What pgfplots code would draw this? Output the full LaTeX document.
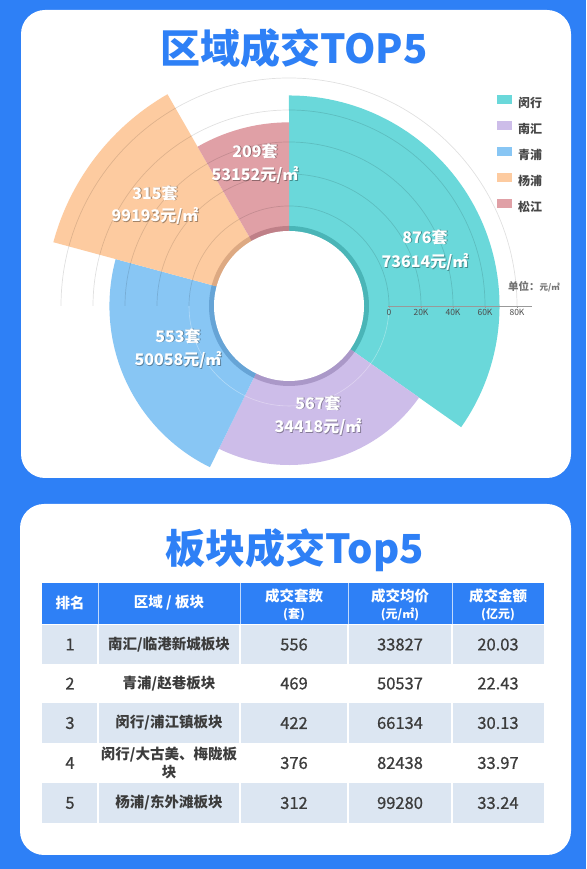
\documentclass[border=0pt]{standalone}
\usepackage{fontspec}
\setmainfont{Noto Sans CJK SC}
\newfontfamily\medfont{Noto Sans CJK SC}[FakeBold=0.7]
\usepackage{pgfplots}
\pgfplotsset{compat=1.18}
\definecolor{bgblue}{HTML}{2E80F6}
\definecolor{cMin}{HTML}{6AD8DA}
\definecolor{cNan}{HTML}{CDBDE9}
\definecolor{cQing}{HTML}{88C6F4}
\definecolor{cYang}{HTML}{FDCBA0}
\definecolor{cSong}{HTML}{E0A0A6}
\definecolor{dMin}{HTML}{4AB5B7}
\definecolor{dNan}{HTML}{AA98C8}
\definecolor{dQing}{HTML}{66A4D6}
\definecolor{dYang}{HTML}{DDA982}
\definecolor{dSong}{HTML}{BF8088}
\definecolor{rowc}{HTML}{DCE6F2}
\definecolor{txt}{HTML}{3C3C3C}
\newcommand\lab[3]{\node[text=black,opacity=0.35,font=\bfseries\fontsize{16}{16}\selectfont] at (#1+0.9,#2-0.9) {#3};
\node[text=white,font=\bfseries\fontsize{16}{16}\selectfont] at (#1,#2) {#3};}
\begin{document}
\begin{tikzpicture}[x=1pt,y=1pt]
\fill[bgblue] (0,0) rectangle (586,869);
\fill[white, rounded corners=24pt] (21,391) rectangle (571,859);
\fill[white, rounded corners=24pt] (20,14) rectangle (571,365);
\node[text=bgblue, font=\bfseries\fontsize{40}{40}\selectfont] at (294,821) {区域成交TOP5};
\node[text=bgblue, font=\bfseries\fontsize{40}{40}\selectfont] at (295,319) {板块成交Top5};
\begin{axis}[
  at={(0,0)}, anchor=south west,
  x=1pt, y=1pt,
  xmin=-289, xmax=297, ymin=-563, ymax=306,
  hide axis, clip=false,
  legend style={at={(0.848,0.891)}, anchor=north west, draw=none, fill=none, inner sep=0pt,
    font=\bfseries\fontsize{12}{12}\selectfont, text=black!72, row sep=11pt,
    nodes={inner sep=0pt, text height=10pt, text depth=2pt},
    /tikz/every odd column/.append style={column sep=6pt}},
  legend cell align=left,
  legend image code/.code={\fill[#1] (0pt,0pt) rectangle (15pt,9pt);},
]
% sectors: angle share = units / 2520 of 360 deg (876, 567, 553, 315, 209 units),
% radius from average price (73614, 34418, 50058, 99193, 53152 yuan/m2)
\addplot[fill=cMin, draw=none, domain=-35.142857:90, samples=70, variable=\t]
  ({(113.8+1.314*73.614)*cos(\t)},{(113.8+1.314*73.614)*sin(\t)}) -- (0,0) -- cycle;
\addlegendentry{闵行}
\addplot[fill=cNan, draw=none, domain=-116.142857:-35.142857, samples=50, variable=\t]
  ({(113.8+1.314*34.418)*cos(\t)},{(113.8+1.314*34.418)*sin(\t)}) -- (0,0) -- cycle;
\addlegendentry{南汇}
\addplot[fill=cQing, draw=none, domain=-195.142857:-116.142857, samples=50, variable=\t]
  ({(113.8+1.314*50.058)*cos(\t)},{(113.8+1.314*50.058)*sin(\t)}) -- (0,0) -- cycle;
\addlegendentry{青浦}
\addplot[fill=cYang, draw=none, domain=-240.142857:-195.142857, samples=40, variable=\t]
  ({(113.8+1.314*99.193)*cos(\t)},{(113.8+1.314*99.193)*sin(\t)}) -- (0,0) -- cycle;
\addlegendentry{杨浦}
\addplot[fill=cSong, draw=none, domain=-270:-240.142857, samples=30, variable=\t]
  ({(113.8+1.314*53.152)*cos(\t)},{(113.8+1.314*53.152)*sin(\t)}) -- (0,0) -- cycle;
\addlegendentry{松江}
% inner shaded ring
\addplot[forget plot, fill=dMin, draw=none, domain=-35.142857:90, samples=50, variable=\t] ({80*cos(\t)},{80*sin(\t)}) -- (0,0) -- cycle;
\addplot[forget plot, fill=dNan, draw=none, domain=-116.142857:-35.142857, samples=40, variable=\t] ({80*cos(\t)},{80*sin(\t)}) -- (0,0) -- cycle;
\addplot[forget plot, fill=dQing, draw=none, domain=-195.142857:-116.142857, samples=40, variable=\t] ({80*cos(\t)},{80*sin(\t)}) -- (0,0) -- cycle;
\addplot[forget plot, fill=dYang, draw=none, domain=-240.142857:-195.142857, samples=30, variable=\t] ({80*cos(\t)},{80*sin(\t)}) -- (0,0) -- cycle;
\addplot[forget plot, fill=dSong, draw=none, domain=-270:-240.142857, samples=30, variable=\t] ({80*cos(\t)},{80*sin(\t)}) -- (0,0) -- cycle;
\fill[white] (0,0) circle[radius=75pt];
% grid
\pgfplotsinvokeforeach{100,132,164,196,228}{
  \draw[black, opacity=0.12, line width=0.7pt] (#1,0) arc[start angle=0, end angle=180, radius=#1pt];
  \draw[black!40, line width=0.6pt] (#1,0) -- (#1,-2.5);
}
\draw[white, opacity=0.35, line width=0.6pt] (-100,0) arc[start angle=180, end angle=360, radius=100pt];
% radial axis
\draw[black!40, line width=0.6pt] (99,0) -- (243,0);
\node[text=black!70, font=\fontsize{8.5}{8.5}\selectfont, anchor=north, inner sep=0pt] at (100,-3.5) {0};
\node[text=black!70, font=\fontsize{8.5}{8.5}\selectfont, anchor=north, inner sep=0pt] at (132,-3.5) {20K};
\node[text=black!70, font=\fontsize{8.5}{8.5}\selectfont, anchor=north, inner sep=0pt] at (164,-3.5) {40K};
\node[text=black!70, font=\fontsize{8.5}{8.5}\selectfont, anchor=north, inner sep=0pt] at (196,-3.5) {60K};
\node[text=black!70, font=\fontsize{8.5}{8.5}\selectfont, anchor=north, inner sep=0pt] at (228,-3.5) {80K};
\node[anchor=west, inner sep=0pt, text=black!55] at (219,19) {\bfseries\fontsize{10.5}{10.5}\selectfont 单位：\fontsize{8.5}{8.5}\selectfont 元/㎡};
\end{axis}
% sector labels
\lab{425}{632}{876套}
\lab{425}{607}{73614元/㎡}
\lab{255}{718}{209套}
\lab{255}{694}{53152元/㎡}
\lab{155}{676}{315套}
\lab{155}{653}{99193元/㎡}
\lab{178}{533}{553套}
\lab{178}{509}{50058元/㎡}
\lab{318}{466}{567套}
\lab{318}{442}{34418元/㎡}
% table
\fill[bgblue] (42,244) rectangle (544,286);
\fill[rowc] (42,205) rectangle (544,244);
\fill[rowc] (42,126) rectangle (544,166);
\fill[rowc] (42,46) rectangle (544,86);
\foreach \xx in {98,240,348,452}{
  \draw[white, line width=1.5pt] (\xx,46) -- (\xx,244);
  \draw[white, opacity=0.7, line width=0.8pt] (\xx,244) -- (\xx,286);
}
\draw[white, line width=1pt] (42,244) -- (544,244);
\begin{scope}[every node/.style={text=white, inner sep=0pt}]
\node[font=\bfseries\fontsize{14.5}{14.5}\selectfont] at (70,266) {排名};
\node[font=\bfseries\fontsize{14.5}{14.5}\selectfont] at (169,266) {区域 / 板块};
\node[font=\bfseries\fontsize{14.5}{14.5}\selectfont] at (294,273) {成交套数};
\node[font=\bfseries\fontsize{12}{12}\selectfont] at (294,254.5) {(套)};
\node[font=\bfseries\fontsize{14.5}{14.5}\selectfont] at (400,273) {成交均价};
\node[font=\bfseries\fontsize{12}{12}\selectfont] at (400,254.5) {(元/㎡)};
\node[font=\bfseries\fontsize{14.5}{14.5}\selectfont] at (498,273) {成交金额};
\node[font=\bfseries\fontsize{12}{12}\selectfont] at (498,254.5) {(亿元)};
\end{scope}
\begin{scope}[every node/.style={text=txt, inner sep=0pt, font=\medfont\fontsize{16.5}{16.5}\selectfont}]
\foreach \yy/\a/\b/\c/\d in {224.5/1/556/33827/20.03, 185.5/2/469/50537/22.43, 146/3/422/66134/30.13, 106/4/376/82438/33.97, 66/5/312/99280/33.24}{
  \node at (70,\yy) {\a};
  \node at (294,\yy) {\b};
  \node at (400,\yy) {\c};
  \node at (498,\yy) {\d};
}
\end{scope}
\begin{scope}[every node/.style={text=txt, inner sep=0pt, font=\bfseries\fontsize{14.5}{14.5}\selectfont}]
\node at (169,224.5) {南汇/临港新城板块};
\node at (169,185.5) {青浦/赵巷板块};
\node at (169,146) {闵行/浦江镇板块};
\node at (169,114) {闵行/大古美、梅陇板};
\node at (169,97) {块};
\node at (169,66) {杨浦/东外滩板块};
\end{scope}
\pgfresetboundingbox
\path[use as bounding box] (0,0) rectangle (586,869);
\end{tikzpicture}
\end{document}
